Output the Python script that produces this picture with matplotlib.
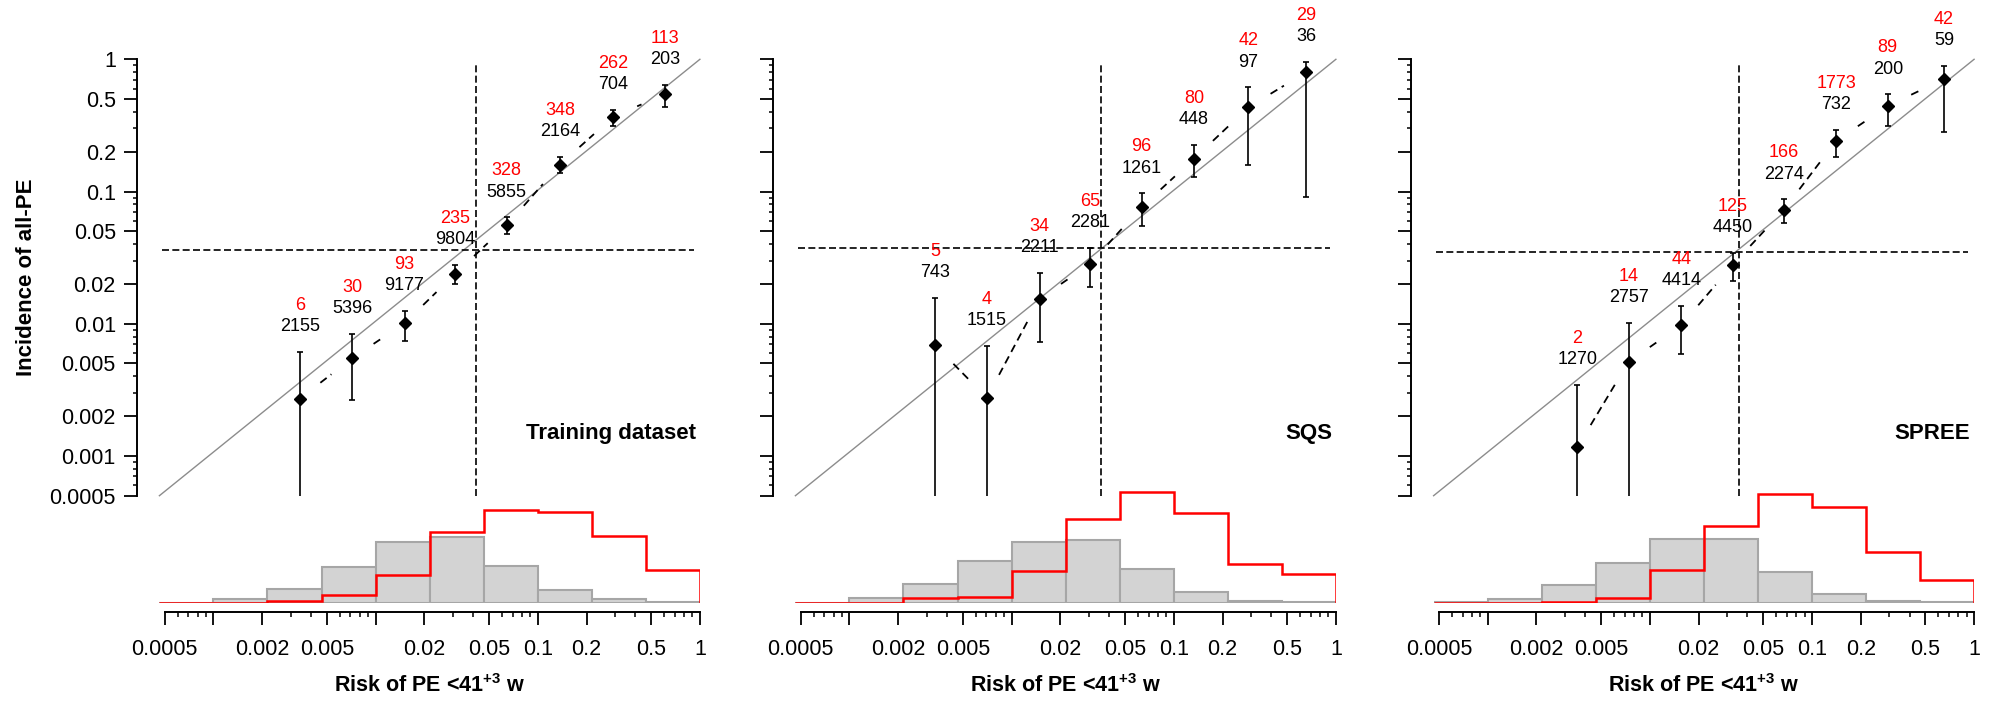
import numpy as np
import matplotlib
matplotlib.use("Agg")
import matplotlib.pyplot as plt
from matplotlib.ticker import FixedLocator, FixedFormatter, NullFormatter

plt.rcParams['font.family'] = ['Liberation Sans', 'DejaVu Sans']
plt.rcParams['mathtext.fontset'] = 'custom'
plt.rcParams['mathtext.rm'] = 'Liberation Sans'
plt.rcParams['mathtext.bf'] = 'Liberation Sans:bold'

# ---------- data ----------
panel_names = ["Training dataset", "SQS", "SPREE"]

# calibration points: mean predicted risk, observed incidence, 95% CI
train_risk = [0.0036, 0.0075, 0.0157, 0.032, 0.066, 0.140, 0.296, 0.615]
train_inc = [0.00271, 0.00547, 0.0101, 0.0238, 0.0555, 0.160, 0.368, 0.546]
train_lo = [0.0004, 0.00263, 0.00736, 0.0200, 0.0477, 0.137, 0.313, 0.433]
train_hi = [0.00614, 0.0084, 0.0125, 0.0279, 0.0638, 0.183, 0.416, 0.640]
train_cases = [6, 30, 93, 235, 328, 348, 262, 113]
train_n = [2155, 5396, 9177, 9804, 5855, 2164, 704, 203]

sqs_risk = [0.00357, 0.00738, 0.0155, 0.0316, 0.065, 0.136, 0.292, 0.658]
sqs_inc = [0.00687, 0.00275, 0.01545, 0.0284, 0.0763, 0.177, 0.433, 0.80]
sqs_lo = [0.0004, 0.0004, 0.00723, 0.0191, 0.0548, 0.129, 0.158, 0.0914]
sqs_hi = [0.0156, 0.00682, 0.0241, 0.0372, 0.0969, 0.225, 0.614, 0.954]
sqs_cases = [5, 4, 34, 65, 96, 80, 42, 29]
sqs_n = [743, 1515, 2211, 2281, 1261, 448, 97, 36]

spree_risk = [0.00377, 0.00775, 0.0163, 0.0335, 0.0686, 0.144, 0.297, 0.654]
spree_inc = [0.00116, 0.00513, 0.00977, 0.0278, 0.0724, 0.242, 0.443, 0.710]
spree_lo = [0.0004, 0.0004, 0.00593, 0.0210, 0.0574, 0.183, 0.315, 0.283]
spree_hi = [0.00344, 0.0102, 0.0136, 0.0341, 0.0873, 0.292, 0.543, 0.890]
spree_cases = [2, 14, 44, 125, 166, 1773, 89, 42]
spree_n = [1270, 2757, 4414, 4450, 2274, 732, 200, 59]

# threshold lines (horizontal incidence, vertical risk)
thresh_h = [0.036, 0.0376, 0.0347]
thresh_v = [0.043, 0.0369, 0.0368]

# risk histograms (% per bin): all women (grey) and PE cases (red)
bin_edges = [0.000464, 0.001, 0.00215, 0.00464, 0.01, 0.0215, 0.0464, 0.1, 0.215, 0.464, 1.0]
train_grey = [0.05, 1.4, 5.8, 15.0, 25.4, 27.2, 15.5, 5.1, 1.5, 0.3]
train_red = [0, 0, 0.7, 3.2, 11.7, 29.6, 38.8, 37.6, 27.8, 13.6]
sqs_grey = [0, 2.1, 8.0, 17.5, 25.3, 26.0, 13.9, 4.3, 0.7, 0.1]
sqs_red = [0, 0, 2.1, 2.5, 13.2, 34.7, 46.3, 37.5, 16.3, 11.8]
spree_grey = [0.1, 1.4, 7.5, 16.7, 26.7, 26.7, 12.9, 3.8, 0.8, 0.3]
spree_red = [0, 0, 0.2, 2.1, 13.8, 32.1, 45.3, 40.0, 21.3, 9.4]

major_ticks = [0.0005, 0.001, 0.002, 0.005, 0.01, 0.02, 0.05, 0.1, 0.2, 0.5, 1]
y_labels = ['0.0005', '0.001', '0.002', '0.005', '0.01', '0.02', '0.05', '0.1', '0.2', '0.5', '1']
x_labels = ['0.0005', '', '0.002', '0.005', '', '0.02', '0.05', '0.1', '0.2', '0.5', '1']

panels = [
    (train_risk, train_inc, train_lo, train_hi, train_cases, train_n, train_grey, train_red),
    (sqs_risk, sqs_inc, sqs_lo, sqs_hi, sqs_cases, sqs_n, sqs_grey, sqs_red),
    (spree_risk, spree_inc, spree_lo, spree_hi, spree_cases, spree_n, spree_grey, spree_red),
]

minor_ticks = [m * 10.0 ** e for e in range(-4, 0) for m in range(2, 10)
               if m not in (2, 5) and 0.0005 < m * 10.0 ** e < 1]

# ---------- layout (pixels) ----------
W, H = 1998, 701
lefts = [159.4, 795.4, 1433.6]
panel_w = 540.5


def box(left, top, right, bottom):
    return [left / W, 1 - bottom / H, (right - left) / W, (bottom - top) / H]


def gapped_line(ax, xs, ys, gap=26):
    # dashed segments between points, leaving a gap around each marker
    pts = ax.transData.transform(np.column_stack([xs, ys]))
    inv = ax.transData.inverted()
    for p, q in zip(pts[:-1], pts[1:]):
        d = q - p
        L = np.hypot(d[0], d[1])
        if L <= 2 * gap:
            continue
        u = d / L
        a = inv.transform(p + u * gap)
        b = inv.transform(q - u * gap)
        ax.plot([a[0], b[0]], [a[1], b[1]], color='black', lw=1.3, dashes=(4.4, 2.8))


fig = plt.figure(figsize=(W / 100, H / 100), dpi=100)

for i, (risk, inc, lo, hi, cases, n, grey, red) in enumerate(panels):
    left = lefts[i]
    ax = fig.add_axes(box(left, 59.3, left + panel_w, 495.7))
    ax.set_xscale('log')
    ax.set_yscale('log')
    ax.set_xlim(0.0005, 1)
    ax.set_ylim(0.0005, 1)
    ax.patch.set_alpha(0)
    for s in ['top', 'right', 'bottom']:
        ax.spines[s].set_visible(False)
    ax.spines['left'].set_position(('outward', 16.3))
    ax.spines['left'].set_linewidth(1.4)
    ax.xaxis.set_major_locator(FixedLocator([]))
    ax.xaxis.set_minor_locator(FixedLocator([]))
    ax.yaxis.set_major_locator(FixedLocator(major_ticks))
    ax.yaxis.set_minor_locator(FixedLocator(minor_ticks))
    ax.yaxis.set_minor_formatter(NullFormatter())
    if i == 0:
        ax.yaxis.set_major_formatter(FixedFormatter(y_labels))
    else:
        ax.yaxis.set_major_formatter(NullFormatter())
    ax.tick_params(axis='y', which='major', length=9.6, width=1.3, labelsize=15.5, pad=5.5)
    ax.tick_params(axis='y', which='minor', length=2.8, width=1.1)

    # identity line
    ax.plot([0.0005, 1], [0.0005, 1], color='#8c8c8c', lw=1.0, clip_on=False)
    # threshold lines
    ax.plot([thresh_v[i], thresh_v[i]], [0.0005, 0.93], color='black', lw=1.2, dashes=(4.2, 2.0))
    ax.plot([0.00052, 0.92], [thresh_h[i], thresh_h[i]], color='black', lw=1.2, dashes=(4.2, 2.0))

    gapped_line(ax, risk, inc)

    inc_a = np.array(inc)
    yerr = [inc_a - np.array(lo), np.array(hi) - inc_a]
    ax.errorbar(risk, inc, yerr=yerr, fmt='D', color='black', ms=6.5,
                elinewidth=1.2, capsize=2.4, capthick=1.2)

    for x, h, c, k in zip(risk, hi, cases, n):
        ax.annotate(str(k), (x, h), xytext=(0, 18.2), textcoords='offset points',
                    ha='center', va='center', fontsize=13, color='black')
        ax.annotate(str(c), (x, h), xytext=(0, 33.5), textcoords='offset points',
                    ha='center', va='center', fontsize=13, color='red')

    ax.text(0.993, 0.143, panel_names[i], transform=ax.transAxes, ha='right',
            va='center', fontsize=16, fontweight='bold')

    # histogram axis
    hx = fig.add_axes(box(left, 602.7 - 50 * 2.4, left + panel_w, 602.7))
    hx.set_xscale('log')
    hx.set_xlim(bin_edges[0], 1)
    hx.set_ylim(0, 50)
    hx.patch.set_alpha(0)
    edges = np.array(bin_edges)
    hx.bar(edges[:-1], grey, width=np.diff(edges), align='edge', color='#d3d3d3',
           edgecolor='#a6a6a6', lw=1.5)
    hx.stairs(red, edges, color='red', lw=1.8, baseline=0)
    for s in ['top', 'right', 'left']:
        hx.spines[s].set_visible(False)
    hx.spines['bottom'].set_position(('outward', 6.5))
    hx.spines['bottom'].set_bounds(0.0005, 1)
    hx.spines['bottom'].set_linewidth(1.4)
    hx.set_yticks([])
    hx.xaxis.set_major_locator(FixedLocator(major_ticks))
    hx.xaxis.set_major_formatter(FixedFormatter(x_labels))
    hx.xaxis.set_minor_locator(FixedLocator(minor_ticks))
    hx.xaxis.set_minor_formatter(NullFormatter())
    hx.tick_params(axis='x', which='major', length=9.4, width=1.3, labelsize=15.5, pad=10)
    hx.tick_params(axis='x', which='minor', length=3.6, width=1.1)

    fig.text((left + panel_w / 2) / W, 1 - 686 / H, r'Risk of PE <41$^{\mathbf{+3}}$ w',
             ha='center', va='center', fontsize=15.5, fontweight='bold')

fig.text(27 / W, 1 - 277.7 / H, 'Incidence of all-PE', rotation=90, ha='center',
         va='center', fontsize=16, fontweight='bold')

fig.savefig('out.png', dpi=100)
